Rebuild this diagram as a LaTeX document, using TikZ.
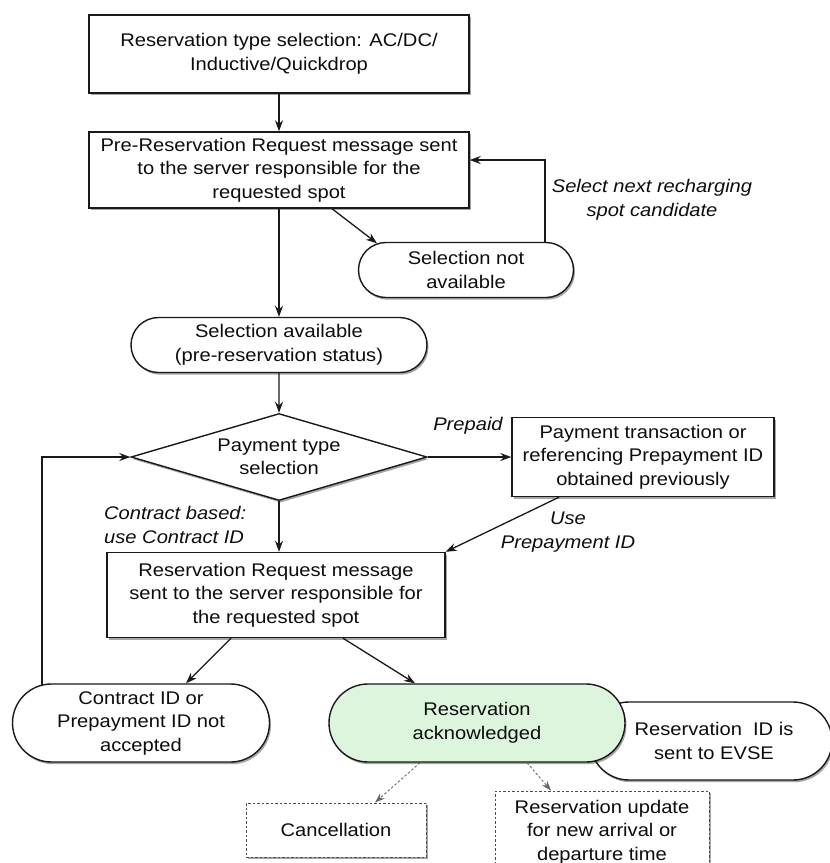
\documentclass[tikz,border=0pt]{standalone}
\usepackage{fontspec}
\setmainfont{Liberation Sans}[FakeStretch=1.1]
\usetikzlibrary{shapes.geometric,shapes.misc,arrows.meta,shadows}
\definecolor{ackgreen}{RGB}{220,245,220}
\begin{document}
\begin{tikzpicture}[x=1pt,y=-1pt,
  font=\fontsize{18.3}{23.5}\selectfont,
  every node/.style={text=black!95, align=center, inner sep=0pt},
  shad/.style={drop shadow={shadow xshift=1.5pt, shadow yshift=-2.2pt, opacity=0.35, fill=black}},
  box/.style={draw=black!90, line width=1.4pt, rectangle, fill=white, shad},
  term/.style={draw=black!90, line width=1.4pt, rounded rectangle, fill=white, shad},
  decide/.style={draw=black!90, line width=1.4pt, diamond, aspect=3.4, fill=white, shad},
  dbox/.style={draw=black!70, line width=0.9pt, dash pattern=on 2.5pt off 2pt, rectangle, fill=white, shad},
  lbl/.style={font=\fontsize{18.3}{23.5}\selectfont\itshape},
  arr/.style={draw=black!90, line width=1.3pt, -{Stealth[length=11pt,width=8pt]}},
  darr/.style={draw=black!60, line width=0.9pt, dash pattern=on 2.5pt off 2pt, -{Stealth[length=10pt,width=7pt]}}
]
\useasboundingbox (0,0) rectangle (830,863);

\node[box, minimum width=380pt, minimum height=78pt] (b1) at (279,54)
  {Reservation type selection: AC/DC/\\Inductive/Quickdrop};
\node[box, minimum width=380pt, minimum height=76pt] (b2) at (279,170)
  {Pre-Reservation Request message sent\\to the server responsible for the\\requested spot};
\node[term, minimum width=215pt, minimum height=55pt] (sna) at (466,270)
  {Selection not\\available};
\node[term, minimum width=296pt, minimum height=55pt] (sa) at (279,345)
  {Selection available\\(pre-reservation status)};
\node[decide, minimum width=296pt, minimum height=87pt] (dia) at (279,457)
  {Payment type\\selection};
\node[box, minimum width=262pt, minimum height=79pt] (pay) at (643,457)
  {Payment transaction or\\referencing Prepayment ID\\obtained previously};
\node[box, minimum width=338pt, minimum height=85pt] (rr) at (276,595)
  {Reservation Request message\\sent to the server responsible for\\the requested spot};
\node[term, minimum width=257pt, minimum height=78pt] (cid) at (141,723)
  {Contract ID or\\Prepayment ID not\\accepted};
\node[term, minimum width=242pt, minimum height=78pt] (rid) at (711,741)
  {\hspace*{6pt}Reservation\ \ ID is\\\hspace*{6pt}sent to EVSE};
\node[term, fill=ackgreen, minimum width=296pt, minimum height=78pt] (ack) at (477,723)
  {Reservation\\acknowledged};
\node[dbox, minimum width=180pt, minimum height=54pt] (can) at (336,830)
  {Cancellation};
\node[dbox, minimum width=214pt, minimum height=82pt] (upd) at (602,832)
  {Reservation update\\for new arrival or\\departure time};

\node[lbl] (lsel) at (652,200) {Select next recharging\\spot candidate};
\node[lbl] (lpre) at (468,426) {Prepaid};
\node[lbl, anchor=west, align=left] (lcon) at (104,525) {Contract based:\\use Contract ID};
\node[lbl] (luse) at (568,532) {Use\\Prepayment ID};

\draw[arr] (b1) -- (b2);
\draw[arr] ([xshift=53pt]b2.south) -- ([xshift=-89pt,yshift=-1.5pt]sna.north);
\draw[arr] ([xshift=79pt]sna.north) |- ([yshift=10pt]b2.east);
\draw[arr] (b2) -- (sa);
\draw[arr] (sa) -- (dia);
\draw[arr] (dia) -- (pay);
\draw[arr] ([xshift=-84pt]pay.south) -- (rr.north east);
\draw[arr] (dia.south) -- (dia.south |- rr.north);
\draw[arr] ([xshift=-45pt]rr.south) -- ([xshift=45pt]cid.north);
\draw[arr] ([xshift=67pt]rr.south) -- ([xshift=-62pt]ack.north);
\draw[arr] ([xshift=-99pt,yshift=-2pt]cid.north) |- (dia.west);
\draw[darr] ([xshift=-57pt]ack.south) -- ([xshift=39pt]can.north);
\draw[darr] ([xshift=50pt]ack.south) -- ([xshift=-51pt]upd.north);
\end{tikzpicture}
\end{document}
